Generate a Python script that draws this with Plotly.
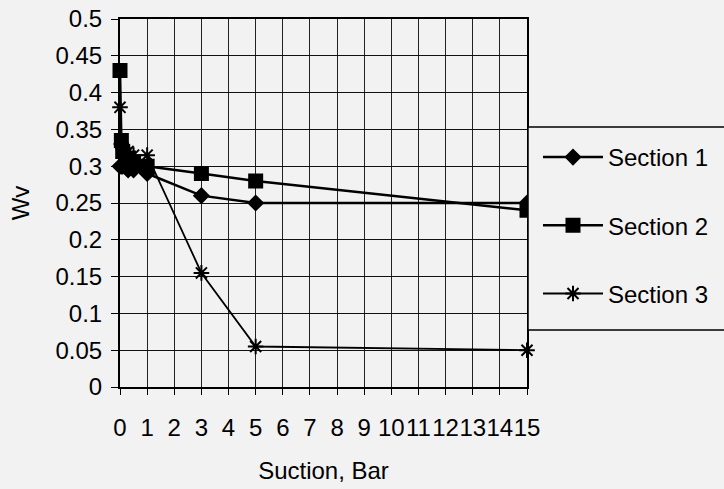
import plotly.graph_objects as go

# Suction (bar) at which the water content was measured
suction = [0, 0.05, 0.1, 0.3, 0.5, 1, 3, 5, 15]

# Volumetric water content Wv for each section
section_1 = [0.30, 0.30, 0.30, 0.295, 0.295, 0.29, 0.26, 0.25, 0.25]
section_2 = [0.43, 0.335, 0.32, 0.31, 0.305, 0.30, 0.29, 0.28, 0.24]
section_3 = [0.38, 0.33, 0.325, 0.32, 0.315, 0.315, 0.155, 0.055, 0.05]

series = [
    ("Section 1", section_1, "diamond", 11, 2.5),
    ("Section 2", section_2, "square", 13, 2.5),
    ("Section 3", section_3, "asterisk-open", 13, 1.8),
]

x_ticks = list(range(0, 16))
y_ticks = [round(0.05 * i, 2) for i in range(0, 11)]

FONT = "Liberation Sans, Arial, sans-serif"
BG = "#f2f2f2"

# plot area in pixels, used to place the legend frame
L, R, T, B = 120, 527, 19, 387
W, H = 724, 489


def px_x(p):
    return (p - L) / (R - L)


def px_y(p):
    return (B - p) / (B - T)


fig = go.Figure()
for i, (name, values, symbol, size, width) in enumerate(series):
    fig.add_trace(go.Scatter(
        x=suction,
        y=values,
        name=name,
        legendgroup=f"g{i}",
        mode="lines+markers",
        line=dict(color="black", width=width),
        marker=dict(symbol=symbol, size=size, color="black",
                    line=dict(color="black", width=2)),
        cliponaxis=False,
    ))

# legend frame, running off the right edge of the page
fig.add_shape(
    type="rect", xref="paper", yref="paper",
    x0=px_x(528), x1=px_x(740), y0=px_y(330), y1=px_y(127),
    fillcolor=BG, line=dict(color="black", width=1.5), layer="above",
)

fig.update_layout(
    width=W,
    height=H,
    paper_bgcolor=BG,
    plot_bgcolor=BG,
    font=dict(family=FONT, size=24, color="black"),
    margin=dict(l=L, r=W - R, t=T, b=H - B, autoexpand=False),
    showlegend=True,
    legend=dict(
        x=px_x(538), xanchor="left",
        y=px_y(135), yanchor="top",
        bgcolor="rgba(0,0,0,0)",
        borderwidth=0,
        font=dict(family=FONT, size=24),
        tracegroupgap=34,
        itemwidth=60,
    ),
    xaxis=dict(
        range=[0, 15],
        tickvals=x_ticks,
        ticktext=[str(v) for v in x_ticks],
        tickangle=0,
        ticklabelstandoff=12,
        showgrid=True, gridcolor="#222", gridwidth=1,
        showline=True, linecolor="black", linewidth=2, mirror=True,
        ticks="outside", ticklen=6, tickcolor="black",
        zeroline=False,
        title=dict(text="Suction, Bar", standoff=22, font=dict(size=24)),
    ),
    yaxis=dict(
        range=[0, 0.5],
        tickvals=y_ticks,
        ticktext=[f"{v:g}" for v in y_ticks],
        ticklabelstandoff=4,
        showgrid=True, gridcolor="#111", gridwidth=1,
        showline=True, linecolor="black", linewidth=2, mirror=True,
        ticks="outside", ticklen=7, tickcolor="black",
        zeroline=False,
        title=dict(text="Wv", standoff=19, font=dict(size=24)),
    ),
)

fig.write_html("out.html")
